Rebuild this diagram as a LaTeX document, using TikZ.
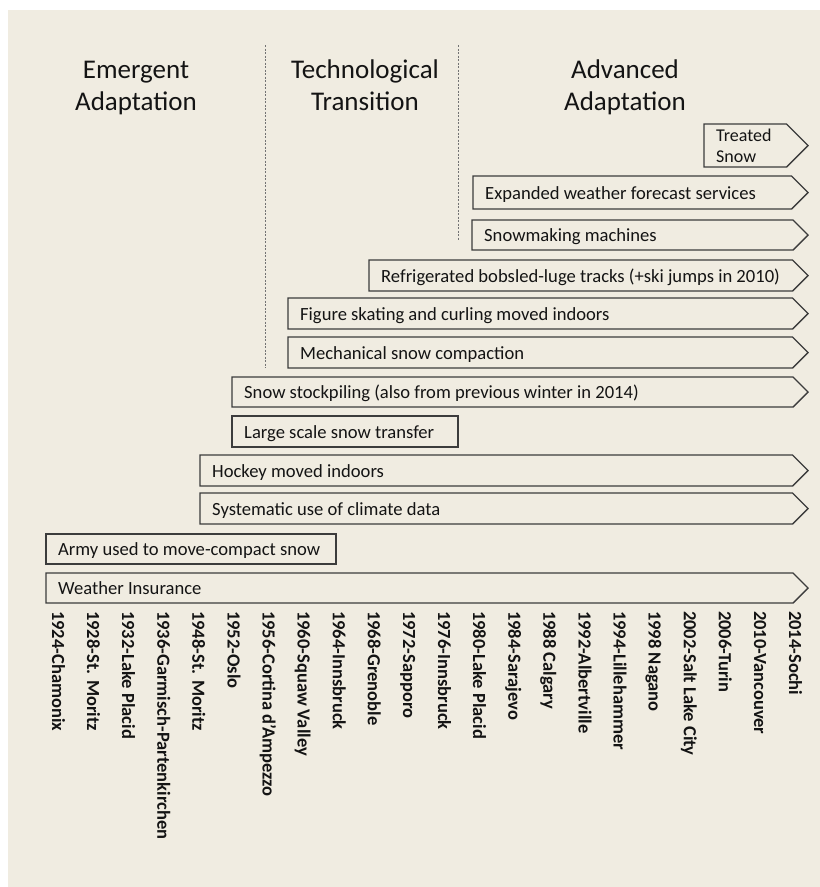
\documentclass[tikz,border=0pt]{standalone}
\usepackage{fontspec}
\setmainfont{Carlito}
\definecolor{bg}{RGB}{240,236,225}
\definecolor{edge}{RGB}{60,60,60}
\definecolor{ink}{RGB}{20,20,20}
\tikzset{
 barline/.style={draw=edge, line width=1.4pt, line join=miter},
 bartext/.style={inner sep=0pt, anchor=base west, text=ink, font=\fontsize{18.6}{21}\selectfont},
 head/.style={inner sep=0pt, anchor=base, text=ink, font=\fontsize{27}{32}\selectfont},
 yearlabel/.style={inner sep=0pt, anchor=base west, rotate=-90, text=ink, font=\bfseries\fontsize{18.5}{20}\selectfont},
 phase/.style={draw=gray!90!black, line width=0.8pt, dash pattern=on 2pt off 1.5pt},
}
\newcommand\tlarrow[5]{%
  \draw[barline] (#2,#3) -- ({808-(#4-#3)/2},#3) -- (808,{(#3+#4)/2}) -- ({808-(#4-#3)/2},#4) -- (#2,#4) -- cycle;
  \node[bartext] (#1) at ({#2+12},{(#3+#4)/2+6.5}) {#5};}
\newcommand\tlbox[6]{%
  \draw[barline] (#2,#3) rectangle (#4,#5);
  \node[bartext] (#1) at ({#2+12},{(#3+#5)/2+6.5}) {#6};}
\begin{document}
\begin{tikzpicture}[x=1pt,y=-1pt]
\useasboundingbox (0,0) rectangle (820,887);
\fill[bg] (8,10) rectangle (820,887);
% phase separators
\coordinate (p1t) at (265,45); \coordinate (p1b) at (265,368);
\coordinate (p2t) at (458,45); \coordinate (p2b) at (458,240);
\draw[phase] (p1t) -- (p1b);
\draw[phase] (p2t) -- (p2b);
% headers
\node[head] (h1a) at (136,78) {Emergent};
\node[head] (h1b) at (136,110) {Adaptation};
\node[head] (h2a) at (365,78) {Technological};
\node[head] (h2b) at (365,110) {Transition};
\node[head] (h3a) at (625,78) {Advanced};
\node[head] (h3b) at (625,110) {Adaptation};
% bars
\draw[barline] (704,124) -- (786.5,124) -- (808,145.5) -- (786.5,167) -- (704,167) -- cycle;
\node[inner sep=0pt, anchor=west, align=left, text=ink, font=\fontsize{18}{20.5}\selectfont] (ts) at (716,146) {Treated\\Snow};
\tlarrow{ew}{473}{176}{209}{Expanded weather forecast services}
\tlarrow{sm}{472}{220}{250}{Snowmaking machines}
\tlarrow{rb}{369}{260}{291}{Refrigerated bobsled-luge tracks (+ski jumps in 2010)}
\tlarrow{fs}{288}{298}{329}{Figure skating and curling moved indoors}
\tlarrow{mc}{288}{337}{368}{Mechanical snow compaction}
\tlarrow{ss}{232}{377}{407}{Snow stockpiling (also from previous winter in 2014)}
\tlbox{lt}{232}{416}{458}{447}{Large scale snow transfer}
\tlarrow{hi}{200}{455}{486}{Hockey moved indoors}
\tlarrow{cd}{200}{493}{524}{Systematic use of climate data}
\tlbox{ar}{46}{534}{336}{564}{Army used to move-compact snow}
\tlarrow{wi}{46}{573}{603}{Weather Insurance}
% year labels
\foreach \lab [count=\i from 0] in {1924-Chamonix,1928-St. Moritz,1932-Lake Placid,1936-Garmisch-Partenkirchen,1948-St. Moritz,1952-Oslo,1956-Cortina d'Ampezzo,1960-Squaw Valley,1964-Innsbruck,1968-Grenoble,1972-Sapporo,1976-Innsbruck,1980-Lake Placid,1984-Sarajevo,1988 Calgary,1992-Albertville,1994-Lillehammer,1998 Nagano,2002-Salt Lake City,2006-Turin,2010-Vancouver,2014-Sochi}
  \node[yearlabel] (y\i) at ({52+35.1*\i},611) {\lab};
\end{tikzpicture}
\end{document}
